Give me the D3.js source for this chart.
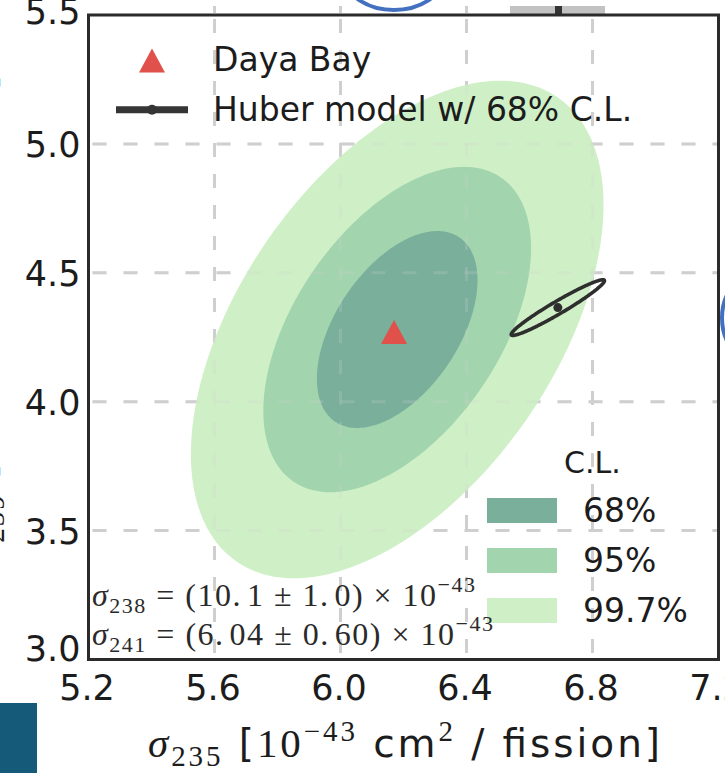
<!DOCTYPE html>
<html><head><meta charset="utf-8">
<script src="https://cdn.jsdelivr.net/npm/d3@7"></script>
<style>html,body{margin:0;padding:0;background:#fff;} svg{display:block}</style>
</head><body><svg id="chart" width="725" height="773"></svg>
<script>
// Daya Bay fitted IBD yields, sigma_235 vs sigma_239 (10^-43 cm^2 / fission)
const dayaBay = { sigma235: 6.17, sigma239: 4.27 };
const contourCenter = [6.18, 4.28];
const clLevels = ["68%", "95%", "99.7%"];
const clHalfWidth235 = [0.255, 0.425, 0.655];
const clHalfWidth239 = [0.382, 0.631, 0.965];
const clCorrelation = 0.5;
// Huber model prediction with its 68% C.L. ellipse
const huber = { sigma235: 6.69, sigma239: 4.365 };
const huberHalfWidth235 = 0.148;
const huberHalfWidth239 = 0.108;
const huberCorrelation = 0.965;
// isotopes held fixed in the fit
const fixedLines = [
  { iso: "238", value: "10.1", err: "1.0" },
  { iso: "241", value: "6.04", err: "0.60" }
];
const xTicks = [5.2, 5.6, 6.0, 6.4, 6.8, 7.2];
const yTicks = [3.0, 3.5, 4.0, 4.5, 5.0, 5.5];
const xTickLabels = ["5.2", "5.6", "6.0", "6.4", "6.8", "7.2"];
const yTickLabels = ["3.0", "3.5", "4.0", "4.5", "5.0", "5.5"];

const svg = d3.select("#chart");
const W = 725, H = 773;
const plot = { left: 88.5, right: 718.5, top: 15, bottom: 659.5 };
const x = d3.scaleLinear().domain([5.2, 7.2]).range([plot.left, plot.right]);
const y = d3.scaleLinear().domain([3.0, 5.5]).range([plot.bottom, plot.top]);
const color = d3.scaleOrdinal().domain(clLevels).range(["#7aaf9c", "#a2d5ae", "#cff0c7"]);

const SANS = "DejaVu Sans, sans-serif";
const SERIF = "Liberation Serif, DejaVu Serif, serif";
const INK = "#1c1c1c";
const FRAME = "#2b2b2b";
const GRID = "#cfcfcf";

const defs = svg.append("defs");
defs.append("clipPath").attr("id", "plotClip").append("rect")
  .attr("x", plot.left).attr("y", plot.top)
  .attr("width", plot.right - plot.left).attr("height", plot.bottom - plot.top);
defs.append("clipPath").attr("id", "aboveClip").append("rect")
  .attr("x", 0).attr("y", 0).attr("width", W).attr("height", plot.top);
defs.append("clipPath").attr("id", "rightClip").append("rect")
  .attr("x", plot.right + 1).attr("y", 0).attr("width", 20).attr("height", H);

// neighbouring panels peeking in at the edges
const above = svg.append("g").attr("clip-path", "url(#aboveClip)");
above.selectAll("line.g").data(xTicks.slice(1, 5)).join("line")
  .attr("x1", d => x(d)).attr("x2", d => x(d)).attr("y1", 6).attr("y2", 13)
  .attr("stroke", GRID).attr("stroke-width", 3);
above.append("ellipse").attr("cx", 394).attr("cy", -22).attr("rx", 48).attr("ry", 32)
  .attr("fill", "none").attr("stroke", "#4470c0").attr("stroke-width", 4);
above.append("rect").attr("x", 510).attr("y", 6).attr("width", 95).attr("height", 9).attr("fill", "#c2c2c2");
above.append("rect").attr("x", 555).attr("y", 6).attr("width", 7).attr("height", 9).attr("fill", "#333");
svg.append("g").attr("clip-path", "url(#rightClip)")
  .append("ellipse").attr("cx", 768).attr("cy", 318).attr("rx", 46).attr("ry", 50)
  .attr("fill", "none").attr("stroke", "#4470c0").attr("stroke-width", 4);
svg.append("rect").attr("x", 0).attr("y", 703).attr("width", 37).attr("height", 70).attr("fill", "#155a78");

// grid
function drawGrid(g, opacity) {
  g.selectAll("line.vx").data(xTicks.slice(1, -1)).join("line").attr("class", "vx")
    .attr("x1", d => x(d)).attr("x2", d => x(d)).attr("y1", plot.top).attr("y2", plot.bottom)
    .attr("stroke", GRID).attr("stroke-width", 3).attr("stroke-dasharray", "14,17")
    .attr("stroke-dashoffset", -4).attr("opacity", opacity);
  g.selectAll("line.hy").data(yTicks.slice(1, -1)).join("line").attr("class", "hy")
    .attr("x1", plot.left).attr("x2", plot.right).attr("y1", d => y(d)).attr("y2", d => y(d))
    .attr("stroke", GRID).attr("stroke-width", 3).attr("stroke-dasharray", "14,17")
    .attr("stroke-dashoffset", -4).attr("opacity", opacity);
}
drawGrid(svg.append("g"), 1);

// confidence ellipse points from half-widths and correlation
function ellipse(cx, cy, a, b, rho, n = 240) {
  const s = Math.sqrt(1 - rho * rho);
  return d3.range(n).map(i => {
    const t = 2 * Math.PI * i / n;
    return [cx + a * Math.cos(t), cy + b * (rho * Math.cos(t) + s * Math.sin(t))];
  });
}
const line = d3.line().x(d => x(d[0])).y(d => y(d[1])).curve(d3.curveLinearClosed);

const contours = svg.append("g").attr("clip-path", "url(#plotClip)");
const levelIdx = d3.range(clLevels.length).reverse();
contours.selectAll("path").data(levelIdx).join("path")
  .attr("d", i => line(ellipse(contourCenter[0], contourCenter[1], clHalfWidth235[i], clHalfWidth239[i], clCorrelation)))
  .attr("fill", i => color(clLevels[i]));

drawGrid(svg.append("g"), 0.22);

// Huber model
svg.append("path")
  .attr("d", line(ellipse(huber.sigma235, huber.sigma239, huberHalfWidth235, huberHalfWidth239, huberCorrelation)))
  .attr("fill", "none").attr("stroke", "#2e2e2e").attr("stroke-width", 3.6);
svg.append("circle").attr("cx", x(huber.sigma235)).attr("cy", y(huber.sigma239)).attr("r", 4.5).attr("fill", "#2e2e2e");

// Daya Bay best fit
const tri = (w, h) => `M0,${-h / 2}L${w / 2},${h / 2}L${-w / 2},${h / 2}Z`;
svg.append("path").attr("d", tri(26, 24))
  .attr("transform", `translate(${x(dayaBay.sigma235)},${y(dayaBay.sigma239)})`)
  .attr("fill", "#e0514b");

// frame
svg.append("rect").attr("x", plot.left).attr("y", plot.top)
  .attr("width", plot.right - plot.left).attr("height", plot.bottom - plot.top)
  .attr("fill", "none").attr("stroke", FRAME).attr("stroke-width", 3);

// axes
const xAxis = svg.append("g").attr("transform", `translate(0,${plot.bottom})`)
  .call(d3.axisBottom(x).tickValues(xTicks).tickFormat((d, i) => xTickLabels[i]).tickSize(0));
xAxis.select(".domain").remove();
xAxis.selectAll("text").attr("y", 40.5).attr("dy", 0).attr("dx", -2)
  .attr("font-family", SANS).attr("font-size", 35).attr("fill", INK);

// end labels sit a little inward from their ticks
const yLabelNudge = new Map([[3.0, -12], [5.5, -4]]);
const yAxis = svg.append("g").attr("transform", `translate(${plot.left},0)`)
  .call(d3.axisLeft(y).tickValues(yTicks).tickFormat((d, i) => yTickLabels[i]).tickSize(0));
yAxis.select(".domain").remove();
yAxis.selectAll("text").attr("x", -8).attr("dy", "0.36em")
  .attr("y", d => yLabelNudge.get(d) || 0)
  .attr("font-family", SANS).attr("font-size", 35).attr("fill", INK);

// mixed-font text helper
function richText(g, segs) {
  segs.forEach(s => {
    const t = g.append("tspan").text(s.t)
      .attr("font-family", s.serif ? SERIF : SANS)
      .attr("font-size", s.size);
    if (s.italic) t.attr("font-style", "italic");
    if (s.dy) t.attr("dy", s.dy);
    if (s.dx) t.attr("dx", s.dx);
  });
  return g;
}

// legend: markers
svg.append("path").attr("d", tri(26, 24)).attr("transform", "translate(152,60.5)").attr("fill", "#e0514b");
svg.append("text").attr("x", 213).attr("y", 71).attr("font-family", SANS).attr("font-size", 33).attr("fill", INK).text("Daya Bay");
svg.append("line").attr("x1", 116).attr("x2", 188).attr("y1", 109.7).attr("y2", 109.7)
  .attr("stroke", "#353535").attr("stroke-width", 7);
svg.append("circle").attr("cx", 152).attr("cy", 109.7).attr("r", 5).attr("fill", "#353535");
svg.append("text").attr("x", 213).attr("y", 121).attr("font-family", SANS).attr("font-size", 33).attr("fill", INK).text("Huber model w/ 68% C.L.");

// legend: confidence levels
svg.append("text").attr("x", 564).attr("y", 473).attr("font-family", SANS).attr("font-size", 30).attr("fill", INK).text("C.L.");
const clLeg = svg.append("g").selectAll("g").data(clLevels).join("g")
  .attr("transform", (d, i) => `translate(487,${498 + i * 50})`);
clLeg.append("rect").attr("width", 70).attr("height", 25).attr("fill", d => color(d));
clLeg.append("text").attr("x", 96).attr("y", 24).attr("font-family", SANS).attr("font-size", 33).attr("fill", INK).text(d => d);

// fixed isotope cross sections
const fixedWidths = [383, 401];
fixedLines.forEach((f, i) => {
  const t = svg.append("text").attr("x", 92).attr("y", 606 + i * 39).attr("fill", "#2a2a2a")
    .attr("textLength", fixedWidths[i]).attr("lengthAdjust", "spacing");
  const [vi, vf] = f.value.split(".");
  const [ei, ef] = f.err.split(".");
  richText(t, [
    { t: "σ", serif: true, italic: true, size: 32 },
    { t: f.iso, serif: true, size: 22, dy: 7 },
    { t: " = (", serif: true, size: 32, dy: -7 },
    { t: vi + ".", serif: true, size: 32 },
    { t: vf, serif: true, size: 32, dx: 5 },
    { t: " ± ", serif: true, size: 32 },
    { t: ei + ".", serif: true, size: 32 },
    { t: ef, serif: true, size: 32, dx: 5 },
    { t: ") × 10", serif: true, size: 32 },
    { t: "−43", serif: true, size: 22, dy: -14 }
  ]);
});

// axis labels
function axisLabelSegs(iso) {
  return [
    { t: "σ", serif: true, italic: true, size: 41 },
    { t: iso, serif: true, size: 29, dy: 9 },
    { t: " [", size: 39, dy: -9 },
    { t: "10", serif: true, size: 41 },
    { t: "−43", serif: true, size: 29, dy: -16 },
    { t: " cm", size: 39, dy: 16 },
    { t: "2", serif: true, size: 29, dy: -16 },
    { t: " / fission]", size: 39, dy: 16 }
  ];
}
richText(svg.append("text").attr("x", 404).attr("y", 757).attr("text-anchor", "middle").attr("fill", INK)
  .attr("textLength", 512).attr("lengthAdjust", "spacing"), axisLabelSegs("235"));
richText(svg.append("text").attr("transform", "translate(-5,320) rotate(-90)").attr("text-anchor", "middle").attr("fill", INK)
  .attr("textLength", 490).attr("lengthAdjust", "spacing"), axisLabelSegs("239"));
</script>
</body></html>
